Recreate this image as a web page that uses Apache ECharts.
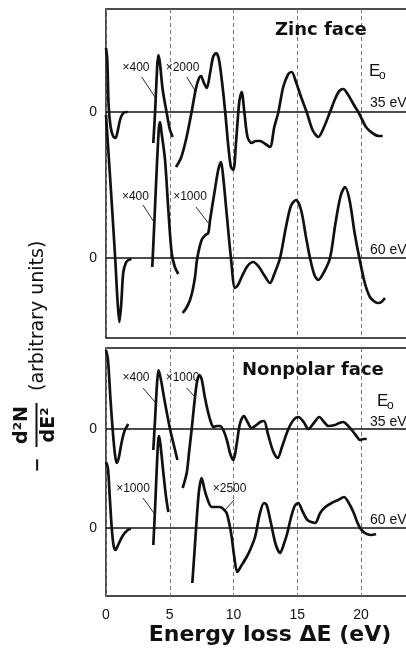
<!DOCTYPE html>
<html><head><meta charset="utf-8">
<script src="https://cdn.jsdelivr.net/npm/echarts@6/dist/echarts.min.js"></script>
<style>html,body{margin:0;padding:0;background:#fff}#c{width:406px;height:660px}</style>
</head><body><div id="c"></div>
<script>
// ---- data: [energy loss (eV), -d2N/dE2 (arbitrary units, relative to its own zero line)] ----
const xTickLabels = ['0','5','10','15','20'];
const zeroTickLabel = '0';

// Zinc face, E0 = 35 eV
const zinc35_x1 = [[0,64],[0.1,52],[0.2,8],[0.35,-14],[0.55,-24],[0.75,-26],[0.9,-20],[1.1,-8],[1.3,-2],[1.6,0],[1.7,0]];
const zinc35_x400 = [[3.71,-31],[3.85,0],[4.0,42],[4.1,57],[4.22,50],[4.45,22],[4.75,0],[5.0,-17],[5.23,-25]];
const zinc35_x2000 = [[5.49,-55],[5.88,-46],[6.27,-28],[6.67,-3],[7.06,24],[7.3,34],[7.45,36],[7.65,30],[7.9,24],[8.15,38],[8.4,55],[8.63,59],[8.85,53],[9.1,30],[9.35,0],[9.6,-35],[9.8,-55],[9.99,-58],[10.2,-30],[10.45,10],[10.64,20],[10.85,0],[11.1,-25],[11.42,-31],[11.75,-29],[12.08,-29],[12.5,-32],[12.86,-35],[13.2,-15],[13.52,0],[13.9,25],[14.3,38],[14.56,40],[14.9,30],[15.3,15],[15.74,0],[16.2,-18],[16.65,-25],[17.1,-15],[17.57,0],[18.0,14],[18.3,21],[18.61,23],[19.0,17],[19.4,8],[19.79,0],[20.1,-8],[20.45,-16],[21.0,-22],[21.4,-24],[21.7,-24]];

// Zinc face, E0 = 60 eV
const zinc60_x1 = [[0,143],[0.35,75],[0.72,0],[0.9,-42],[1.05,-64],[1.2,-45],[1.35,-15],[1.55,-5],[1.75,-2],[2.0,-1]];
const zinc60_x400 = [[3.63,-9],[3.8,38],[4.0,95],[4.15,130],[4.24,136],[4.35,126],[4.63,98],[4.89,48],[5.15,5],[5.4,-9],[5.67,-16]];
const zinc60_x1000 = [[6.01,-55],[6.3,-50],[6.59,-42],[6.8,-32],[6.98,-19],[7.16,0],[7.5,18],[7.8,23],[8.02,25],[8.16,38],[8.5,65],[8.8,88],[9.02,96],[9.2,80],[9.46,45],[9.8,0],[10.12,-30],[10.35,-27],[10.64,-19],[11.1,-8],[11.55,-4],[12.0,-9],[12.4,-17],[12.86,-25],[13.2,-16],[13.65,0],[14.1,30],[14.5,52],[14.9,58],[15.3,48],[15.7,20],[16.0,0],[16.35,-17],[16.65,-22],[17.1,-14],[17.57,0],[18.0,35],[18.4,62],[18.75,71],[19.1,58],[19.5,25],[19.87,0],[20.3,-25],[20.7,-39],[21.1,-44],[21.36,-45],[21.6,-44],[21.88,-40]];

// Nonpolar face, E0 = 35 eV
const non35_x1 = [[0,79],[0.15,70],[0.35,30],[0.55,-5],[0.7,-25],[0.84,-34],[1.0,-29],[1.2,-15],[1.45,-2],[1.75,5]];
const non35_x400 = [[3.71,-21],[3.85,10],[4.0,45],[4.12,59],[4.3,50],[4.6,28],[5.02,0],[5.3,-15],[5.6,-31]];
const non35_x1000 = [[6.01,-59],[6.33,-44],[6.5,-25],[6.72,0],[6.98,32],[7.15,48],[7.32,54],[7.5,50],[7.75,32],[8.02,16],[8.25,6],[8.42,2],[8.7,3],[8.94,3],[9.2,-1],[9.5,-12],[9.75,-25],[9.99,-31],[10.25,-15],[10.5,5],[10.82,13],[11.1,7],[11.42,1],[11.8,4],[12.1,7],[12.39,8],[12.7,-5],[13.1,-22],[13.46,-29],[13.8,-18],[14.3,0],[14.7,9],[15.08,12],[15.5,7],[15.87,0],[16.3,6],[16.73,12],[17.1,7],[17.44,3],[17.96,4],[18.3,6],[18.61,7],[19.0,3],[19.4,-3],[19.7,-8],[19.92,-11],[20.2,-10],[20.45,-10]];

// Nonpolar face, E0 = 60 eV
const non60_x1 = [[0,66],[0.15,60],[0.3,30],[0.45,0],[0.6,-18],[0.75,-22],[0.95,-17],[1.3,-8],[1.7,-2],[1.95,-1]];
const non60_x1000 = [[3.71,-17],[3.85,20],[4.0,65],[4.1,88],[4.17,92],[4.3,80],[4.5,55],[4.7,32],[4.89,16]];
const non60_x2500 = [[6.77,-55],[6.95,-22],[7.11,8],[7.3,38],[7.5,50],[7.7,40],[7.9,31],[8.29,21],[8.6,21],[8.94,21],[9.2,19],[9.46,15],[9.66,5],[9.86,-9],[10.05,-28],[10.3,-44],[10.6,-38],[11.03,-29],[11.3,-22],[11.69,-9],[12.08,15],[12.39,25],[12.6,23],[12.95,4],[13.3,-16],[13.65,-25],[13.95,-16],[14.2,-6],[14.5,10],[14.8,22],[15.08,25],[15.4,17],[15.8,8],[16.39,5],[16.8,15],[17.2,21],[17.7,25],[18.2,28],[18.67,31],[19.0,26],[19.4,16],[19.7,6],[19.92,0],[20.2,-4],[20.45,-6],[20.8,-7],[21.18,-6]];

// ---- layout ----
const GRID_W = 303;
const X_MAX = GRID_W / 12.75;
const panels = [
  { grid: 0, yMax: 329, zero35: 226, zero60: 80 },
  { grid: 1, yMax: 248, zero35: 167, zero60: 68 }
];
const INK = '#111';

function curve(data, g, off) {
  return { type: 'line', xAxisIndex: g, yAxisIndex: g, data: data.map(p => [p[0], p[1] + off]),
    smooth: 0.3, symbol: 'none', showSymbol: false, clip: false, silent: true, z: 3,
    lineStyle: { color: INK, width: 2.7 } };
}
function zeroLine(g, off) {
  return { type: 'line', xAxisIndex: g, yAxisIndex: g, data: [[0, off], [X_MAX, off]],
    symbol: 'none', silent: true, z: 2, lineStyle: { color: INK, width: 1.3 } };
}

const series = [
  zeroLine(0, panels[0].zero35), zeroLine(0, panels[0].zero60),
  zeroLine(1, panels[1].zero35), zeroLine(1, panels[1].zero60),
  curve(zinc35_x1, 0, panels[0].zero35), curve(zinc35_x400, 0, panels[0].zero35), curve(zinc35_x2000, 0, panels[0].zero35),
  curve(zinc60_x1, 0, panels[0].zero60), curve(zinc60_x400, 0, panels[0].zero60), curve(zinc60_x1000, 0, panels[0].zero60),
  curve(non35_x1, 1, panels[1].zero35), curve(non35_x400, 1, panels[1].zero35), curve(non35_x1000, 1, panels[1].zero35),
  curve(non60_x1, 1, panels[1].zero60), curve(non60_x1000, 1, panels[1].zero60), curve(non60_x2500, 1, panels[1].zero60)
];

const tickFont = { fontFamily: 'Liberation Sans', fontSize: 14, color: INK };
function xAxis(g, labels) {
  return { type: 'value', gridIndex: g, min: 0, max: X_MAX, interval: 5,
    axisLine: { show: false }, axisTick: { show: false },
    splitLine: { show: true, lineStyle: { color: '#777', width: 1, type: [4, 3] } },
    axisLabel: Object.assign({ show: labels, margin: 12, showMaxLabel: false,
      formatter: v => { const i = Math.round(v / 5); return (Math.abs(v - i * 5) < 1e-6 && xTickLabels[i] !== undefined) ? xTickLabels[i] : ''; } }, tickFont) };
}
function yAxis(p) {
  return { type: 'value', gridIndex: p.grid, min: 0, max: p.yMax,
    axisLine: { show: false }, axisTick: { show: false }, splitLine: { show: false },
    axisLabel: Object.assign({ show: true, margin: 9, customValues: [p.zero35, p.zero60], formatter: () => zeroTickLabel }, tickFont) };
}

const chart = echarts.init(document.getElementById('c'), null, { renderer: 'canvas' });
chart.setOption({
  animation: false,
  backgroundColor: '#fff',
  grid: [
    { left: 106, width: GRID_W, top: 9, height: 329, show: true, borderColor: INK, borderWidth: 1.5, backgroundColor: 'transparent', containLabel: false, outerBoundsMode: 'none' },
    { left: 106, width: GRID_W, top: 348, height: 248, show: true, borderColor: INK, borderWidth: 1.5, backgroundColor: 'transparent', containLabel: false, outerBoundsMode: 'none' }
  ],
  xAxis: [xAxis(0, false), xAxis(1, true)],
  yAxis: [yAxis(panels[0]), yAxis(panels[1])],
  series: series
});

// ---- annotations (anchored in data coordinates) ----
const annotations = [
  { g: 0, text: '×400', at: [2.35, 270], from: [2.8, 261], to: [3.84, 241] },
  { g: 0, text: '×2000', at: [6.0, 270], from: [6.33, 261], to: [7.06, 246] },
  { g: 0, text: '×400', at: [2.31, 141], from: [2.9, 133], to: [3.76, 116] },
  { g: 0, text: '×1000', at: [6.59, 141], from: [7.06, 131], to: [8.02, 115] },
  { g: 1, text: '×400', at: [2.35, 218], from: [2.9, 208], to: [3.84, 194] },
  { g: 1, text: '×1000', at: [6.0, 218], from: [6.33, 208], to: [6.98, 199] },
  { g: 1, text: '×1000', at: [2.12, 107], from: [2.9, 98], to: [3.76, 83] },
  { g: 1, text: '×2500', at: [9.69, 107], from: [10.04, 96], to: [9.33, 86] }
];
const graphics = [];
annotations.forEach(a => {
  const c = chart.convertToPixel({ gridIndex: a.g }, a.at);
  const f = chart.convertToPixel({ gridIndex: a.g }, a.from);
  const t = chart.convertToPixel({ gridIndex: a.g }, a.to);
  graphics.push({ type: 'text', x: c[0], y: c[1], z: 10, style: { text: a.text, font: '12px "Liberation Sans"', fill: INK, align: 'center', verticalAlign: 'middle' } });
  graphics.push({ type: 'line', z: 10, shape: { x1: f[0], y1: f[1], x2: t[0], y2: t[1] }, style: { stroke: INK, lineWidth: 0.9 } });
});

function txt(text, x, y, font, align) {
  return { type: 'text', x: x, y: y, z: 10, style: { text: text, font: font, fill: INK, align: align || 'left', verticalAlign: 'middle' } };
}
const titleFont = 'bold 18px "DejaVu Sans"';
const eVFont = '14px "Liberation Sans"';
graphics.push(
  txt('Zinc face', 275, 30, titleFont),
  txt('E', 369, 71, '17px "Liberation Sans"'), txt('o', 379, 76, '12px "Liberation Sans"'),
  txt('35 eV', 370, 103, eVFont), txt('60 eV', 370, 250, eVFont),
  txt('Nonpolar face', 242, 370, titleFont),
  txt('E', 377, 401, '17px "Liberation Sans"'), txt('o', 387, 406, '12px "Liberation Sans"'),
  txt('35 eV', 370, 422, eVFont), txt('60 eV', 370, 520, eVFont),
  txt('Energy loss ΔE (eV)', 270, 635, 'bold 22px "DejaVu Sans"', 'center')
);
// rotated y-axis title
graphics.push({
  type: 'group', x: 36, y: 475, rotation: Math.PI / 2, z: 10,
  children: [
    { type: 'text', x: 10, y: 2, style: { text: '−', font: 'bold 18px "DejaVu Sans"', fill: INK, align: 'center', verticalAlign: 'middle' } },
    { type: 'text', x: 50, y: -14, style: { text: 'd²N', font: 'bold 19px "DejaVu Sans"', fill: INK, align: 'center', verticalAlign: 'middle' } },
    { type: 'line', shape: { x1: 28, y1: 0.5, x2: 72, y2: 0.5 }, style: { stroke: INK, lineWidth: 2 } },
    { type: 'text', x: 50, y: 13, style: { text: 'dE²', font: 'bold 19px "DejaVu Sans"', fill: INK, align: 'center', verticalAlign: 'middle' } },
    { type: 'text', x: 84, y: 2, style: { text: '(arbitrary units)', font: '19px "DejaVu Sans"', fill: INK, align: 'left', verticalAlign: 'middle' } }
  ]
});
chart.setOption({ graphic: graphics });
</script>
</body></html>
